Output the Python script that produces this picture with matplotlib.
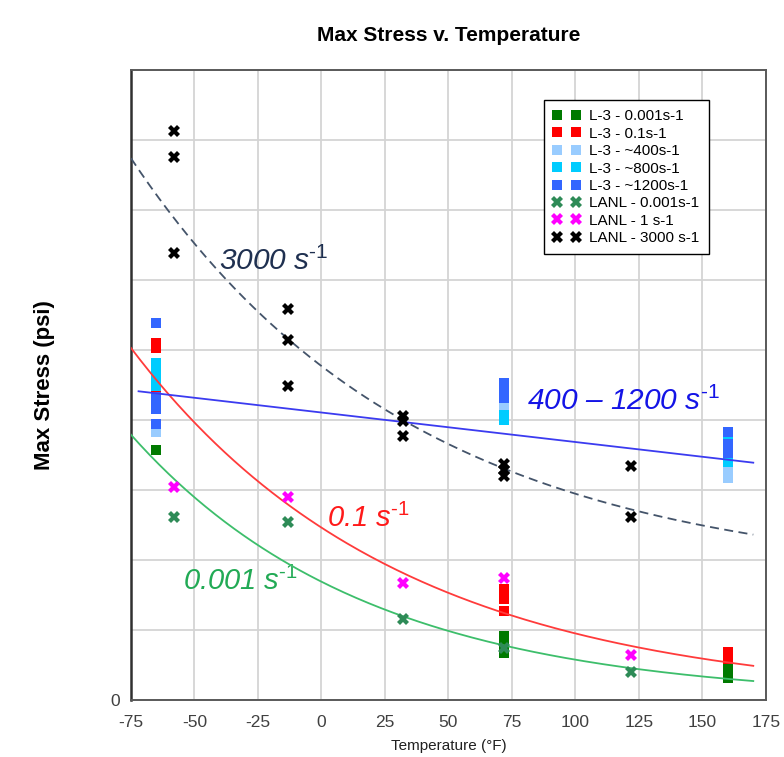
import numpy as np
import matplotlib
matplotlib.use("Agg")
import matplotlib.pyplot as plt

plt.rcParams['font.family'] = ['Liberation Sans', 'DejaVu Sans']
plt.rcParams['mathtext.fontset'] = 'custom'
plt.rcParams['mathtext.rm'] = 'Liberation Sans'
plt.rcParams['mathtext.it'] = 'Liberation Sans:italic'

# ---- L-3 data (temperature F, max stress in grid units) ----
l3_001_t = [-65, 72, 72, 72, 72, 160, 160, 160]
l3_001_s = [3.57, 0.91, 0.83, 0.75, 0.67, 0.47, 0.40, 0.31]

l3_01_t = [-65, -65, -65, 72, 72, 72, 72, 160, 160, 160]
l3_01_s = [5.10, 5.03, 4.41, 1.59, 1.51, 1.44, 1.27, 0.69, 0.64, 0.59]

l3_400_t = [-65, 72, 160, 160]
l3_400_s = [3.83, 4.19, 3.26, 3.17]

l3_800_t = [-65, -65, -65, -65, -65, 72, 72, 160, 160]
l3_800_s = [4.81, 4.73, 4.64, 4.56, 4.49, 4.07, 4.00, 3.77, 3.40]

l3_1200_t = [-65, -65, -65, -65, -65, 72, 72, 72, 72, 160, 160, 160]
l3_1200_s = [5.39, 4.33, 4.24, 4.16, 3.94, 4.53, 4.46, 4.39, 4.31, 3.83, 3.66, 3.53]

# ---- LANL data ----
lanl_001_t = [-58, -13, 32, 72, 122]
lanl_001_s = [2.61, 2.54, 1.16, 0.74, 0.40]

lanl_1_t = [-58, -13, 32, 72, 122]
lanl_1_s = [3.04, 2.90, 1.67, 1.74, 0.64]

lanl_3000_t = [-58, -58, -58, -13, -13, -13, 32, 32, 32, 72, 72, 72, 122, 122]
lanl_3000_s = [8.13, 7.76, 6.39, 5.59, 5.14, 4.49, 4.06, 3.99, 3.77, 3.37, 3.29, 3.20, 3.34, 2.61]

# trendline coefficients
fit_001 = (1.69, -0.01077)          # a*exp(b*x)
fit_01 = (2.463, -0.00952)          # a*exp(b*x)
fit_hi = (4.107, -0.004215)         # a + b*x
fit_3000 = (1.7, 3.071, -0.00902)   # c + a*exp(b*x)

xticks = [-75, -50, -25, 0, 25, 50, 75, 100, 125, 150, 175]

fig = plt.figure(figsize=(7.84, 7.57), dpi=100)
ax = fig.add_axes([0.167, 0.0753, 0.81, 0.8322])

xx = np.linspace(-75, 170, 200)
xb = np.linspace(-72, 170, 200)

ax.plot(xx, fit_001[0] * np.exp(fit_001[1] * xx), color='#3DBE6B', lw=1.3, zorder=3.5)
ax.plot(xx, fit_01[0] * np.exp(fit_01[1] * xx), color='#FF3B3B', lw=1.3, zorder=3.5)
ax.plot(xb, fit_hi[0] + fit_hi[1] * xb, color='#3B3BF0', lw=1.3, zorder=3.5)
ax.plot(xx, fit_3000[0] + fit_3000[1] * np.exp(fit_3000[2] * xx), color='#44546A', lw=1.3,
        ls=(0, (5, 3)), zorder=3.5)

sq = dict(marker='s', ms=7, ls='none', markeredgewidth=0)
ax.plot(l3_001_t, l3_001_s, color='#007A00', label='L-3 - 0.001s-1', zorder=3, **sq)
ax.plot(l3_01_t, l3_01_s, color='#FF0000', label='L-3 - 0.1s-1', zorder=3, **sq)
ax.plot(l3_400_t, l3_400_s, color='#99CCFF', label='L-3 - ~400s-1', zorder=3, **sq)
ax.plot(l3_800_t, l3_800_s, color='#00CCFF', label='L-3 - ~800s-1', zorder=3, **sq)
ax.plot(l3_1200_t, l3_1200_s, color='#3366FF', label='L-3 - ~1200s-1', zorder=3, **sq)

xm = dict(marker='X', ms=8, ls='none', markeredgewidth=0)
ax.plot(lanl_001_t, lanl_001_s, color='#2E8B57', label='LANL - 0.001s-1', zorder=4, **xm)
ax.plot(lanl_1_t, lanl_1_s, color='#FF00FF', label='LANL - 1 s-1', zorder=4, **xm)
ax.plot(lanl_3000_t, lanl_3000_s, color='#000000', label='LANL - 3000 s-1', zorder=4, **xm)

# labels on the curves
sup = r'$^{\text{-}1}$'
ax.text(-40.5, 6.26, '3000 s' + sup, color='#1F3050', fontsize=21.5, style='italic', va='center')
ax.text(81, 4.26, '400 \u2013 1200 s' + sup, color='#1414E6', fontsize=21.5, style='italic', va='center')
ax.text(2.2, 2.6, '0.1 s' + sup, color='#FF1A1A', fontsize=21, style='italic', va='center')
ax.text(-54.5, 1.69, '0.001 s' + sup, color='#22AA55', fontsize=21, style='italic', va='center')

ax.set_xlim(-75, 175)
ax.set_ylim(0, 9)
ax.set_xticks(xticks)
ax.set_xticklabels([str(v) for v in xticks])
ax.set_yticks(range(0, 10))
ax.set_yticklabels(['0'] + [''] * 9)
ax.tick_params(length=0, labelsize=12.5, colors='#404040', pad=11)
ax.tick_params(axis='y', pad=8)
ax.grid(True, color='#D4D4D4', lw=1.3)
ax.set_axisbelow(True)
for s in ax.spines.values():
    s.set_color('#595959')
    s.set_linewidth(1.4)
ax.spines['left'].set_color('#303030')
ax.spines['left'].set_linewidth(1.8)

ax.set_title('Max Stress v. Temperature', fontsize=15, fontweight='bold', pad=21)
ax.set_ylabel('Max Stress (psi)', fontsize=16, fontweight='bold', labelpad=40)
ax.set_xlabel('Temperature (\u00b0F)', fontsize=11, labelpad=6, color='#202020',
              family=['Liberation Sans Narrow', 'Liberation Sans'])

leg = ax.legend(loc='upper right', bbox_to_anchor=(0.91, 0.952), numpoints=2, fontsize=11,
                frameon=True, fancybox=False, edgecolor='#000000', framealpha=1,
                labelspacing=0.22, handlelength=1.8, borderpad=0.6, handletextpad=0.6,
                borderaxespad=0)
leg.get_frame().set_linewidth(1.0)

fig.savefig('out.png', dpi=100)
